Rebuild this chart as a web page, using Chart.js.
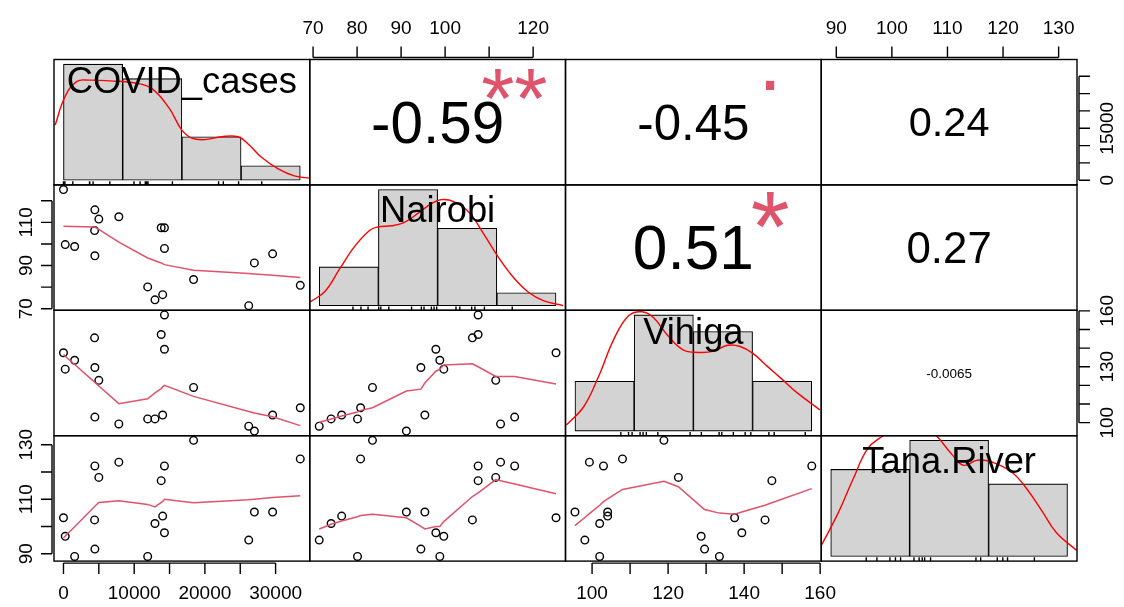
<!DOCTYPE html>
<html>
<head>
<meta charset="utf-8">
<title>chart.Correlation</title>
<script src="https://cdn.jsdelivr.net/npm/chart.js@4/dist/chart.umd.min.js"></script>
<style>
  html, body { margin: 0; padding: 0; background: #fff; }
  #wrap { position: relative; width: 1124px; height: 607px; overflow: hidden; }
  #wrap canvas { position: absolute; left: 0; top: 0; }
</style>
</head>
<body>
<div id="wrap"></div>
<script>
// ---- data ----
const varNames = ['COVID_cases', 'Nairobi', 'Vihiga', 'Tana.River'];

const covidCases = [0, 250, 1580, 4440, 5000, 4400, 4440, 7830, 11910, 12940, 13820, 14280, 14280, 14030, 18400, 26200, 27000, 29580, 33490];
const nairobi    = [125.2, 99.7, 98.8, 115.8, 111.5, 106.2, 94.5, 112.6, 80.1, 74.1, 107.5, 107.5, 97.9, 76.5, 83.5, 71.4, 91.2, 95.4, 80.8];
const vihiga     = [137.5, 128.7, 133.5, 103.0, 122.7, 145.5, 129.6, 99.3, 102.0, 102.0, 147.3, 157.8, 139.4, 104.1, 118.9, 98.1, 95.5, 104.1, 108.0];
const tanaRiver  = [103.2, 96.4, 89.0, 122.2, 118.0, 102.4, 91.7, 123.6, 89.0, 101.1, 116.8, 122.2, 97.7, 103.8, 131.6, 95.0, 105.3, 105.3, 124.8];

// upper panels: (row, col) pairs, printed r and significance stars
const corrPairs  = [[0, 1], [0, 2], [0, 3], [1, 2], [1, 3], [2, 3]];
const corrValues = [-0.59, -0.45, 0.24, 0.51, 0.27, -0.0065];
const corrLabels = ['-0.59', '-0.45', '0.24', '0.51', '0.27', '-0.0065'];
const corrStars  = ['**', '.', '', '*', '', ''];

// histograms on the diagonal
const covidBreaks = [0, 10000, 20000, 30000, 40000];
const covidCounts = [8, 7, 3, 1];
const nairobiBreaks = [60, 80, 100, 120, 140];
const nairobiCounts = [3, 9, 6, 1];
const vihigaBreaks = [80, 100, 120, 140, 160];
const vihigaCounts = [3, 7, 6, 3];
const tanaBreaks = [80, 100, 120, 140];
const tanaCounts = [6, 8, 5];

// density curves (height in bar-count units)
const covidDensX = [-1400, 200, 2200, 4400, 7800, 12200, 15000, 17800, 20000, 21700, 23900, 26700, 29500, 31200, 33400, 36200, 39000, 41800];
const covidDensY = [3.8, 5.7, 6.8, 6.9, 6.85, 6.7, 6.3, 5.0, 3.45, 2.9, 2.8, 3.0, 3.0, 2.5, 1.6, 0.8, 0.3, 0.14];
const nairobiDensX = [57.0, 62.0, 67.0, 72.1, 77.1, 79.9, 84.6, 88.8, 93.8, 98.0, 101.4, 105.6, 110.6, 115.6, 120.6, 125.7, 130.7, 135.7, 142.4];
const nairobiDensY = [0.29, 1.12, 2.89, 4.63, 5.85, 6.11, 6.19, 6.45, 7.23, 7.93, 8.22, 8.04, 7.23, 5.54, 3.72, 2.16, 1.04, 0.39, 0.0];
const vihigaDensX = [77.1, 83.0, 88.0, 93.1, 98.1, 102.6, 106.5, 111.5, 116.5, 121.6, 126.6, 131.6, 135.8, 140.0, 145.0, 150.1, 155.1, 162.7];
const vihigaDensY = [0.36, 1.48, 3.3, 5.53, 6.95, 7.19, 6.84, 5.73, 4.9, 4.74, 4.8, 5.17, 5.1, 4.7, 3.9, 3.1, 2.3, 1.28];
const tanaDensX = [77.5, 81.9, 85.7, 89.4, 93.2, 97.0, 100.0, 103.5, 106.8, 110.8, 113.6, 117.1, 120.9, 125.9, 129.7, 133.5, 137.2, 142.3];
const tanaDensY = [0.7, 3.0, 5.35, 7.44, 8.32, 9.1, 9.4, 9.1, 8.32, 7.0, 6.28, 6.63, 6.5, 5.8, 4.65, 3.14, 1.63, 0.42];

// lowess lines of the lower panels
const smoothCovNaiX = [0, 4440, 5000, 7830, 11910, 13820, 14280, 18400, 26200, 27000, 29580, 33490];
const smoothCovNaiY = [108.2, 107.8, 106.7, 100.8, 93.5, 91.2, 90.4, 87.8, 86.3, 86.1, 85.5, 84.4];
const smoothCovVihX = [0, 250, 1580, 4440, 5000, 7830, 11910, 12940, 13820, 14030, 14280, 18400, 26200, 27000, 29580, 33490];
const smoothCovVihY = [136.6, 135.6, 131.2, 121.6, 119.7, 110.2, 112.8, 116.0, 118.3, 119.2, 120.0, 114.1, 106.0, 105.2, 103.2, 98.4];
const smoothCovTanX = [0, 250, 1580, 4440, 5000, 7830, 11910, 12940, 14030, 14280, 18400, 26200, 29580, 33490];
const smoothCovTanY = [95.8, 96.5, 99.9, 107.4, 108.8, 109.4, 108.1, 107.2, 109.2, 110.0, 108.7, 109.8, 110.6, 111.3];
const smoothNaiVihX = [71.4, 74.1, 76.5, 80.1, 80.8, 83.5, 91.2, 94.5, 95.4, 97.9, 98.8, 99.7, 106.2, 107.5, 111.5, 112.6, 115.8, 125.2];
const smoothNaiVihY = [100.2, 102.0, 103.6, 105.7, 106.6, 108.0, 117.0, 118.0, 121.3, 127.6, 128.7, 130.9, 131.6, 130.0, 124.8, 124.8, 124.8, 120.7];
const smoothNaiTanX = [71.4, 74.1, 76.5, 80.1, 80.8, 83.5, 91.2, 94.5, 95.4, 97.9, 98.8, 99.7, 106.2, 107.5, 111.5, 112.6, 115.8, 125.2];
const smoothNaiTanY = [99.1, 100.8, 102.0, 103.6, 104.0, 104.5, 103.2, 100.0, 99.1, 100.0, 100.0, 101.8, 111.0, 112.3, 117.2, 116.8, 115.6, 112.0];
const smoothVihTanX = [95.5, 98.1, 99.3, 102.0, 103.0, 104.1, 108.0, 118.9, 122.7, 128.7, 129.6, 133.5, 137.5, 139.4, 145.5, 147.3, 157.8];
const smoothVihTanY = [100.3, 103.3, 104.7, 107.8, 109.1, 110.1, 113.6, 116.6, 114.6, 107.3, 106.2, 104.9, 104.5, 105.3, 107.8, 108.7, 113.9];

// outer axes
const covidTicks = [0, 5000, 10000, 15000, 20000, 25000, 30000];
const covidBottomLabels = ['0', '', '10000', '', '20000', '', '30000'];
const covidRightLabels = ['0', '', '', '15000', '', '', ''];
const nairobiTicks = [70, 80, 90, 100, 110, 120];
const nairobiTopLabels = ['70', '80', '90', '100', '', '120'];
const nairobiLeftLabels = ['70', '', '90', '', '110', ''];
const vihigaTicks = [100, 110, 120, 130, 140, 150, 160];
const vihigaBottomLabels = ['100', '', '120', '', '140', '', '160'];
const vihigaRightLabels = ['100', '', '', '130', '', '', '160'];
const tanaTicks = [90, 100, 110, 120, 130];
const tanaTopLabels = ['90', '100', '110', '120', '130'];
const tanaLeftLabels = ['90', '', '110', '', '130'];

// ---- layout ----
const W = 1124, H = 607;
const gridLeft = 54, gridTop = 59.5, cellW = 255.75, cellH = 125.4;
const FONT = '"Liberation Sans", Arial, Helvetica, sans-serif';
const LW = 1.4;
const smoothRed = '#DF536B';

const series = [covidCases, nairobi, vihiga, tanaRiver];
const histBreaks = [covidBreaks, nairobiBreaks, vihigaBreaks, tanaBreaks];
const histCounts = [covidCounts, nairobiCounts, vihigaCounts, tanaCounts];
const densX = [covidDensX, nairobiDensX, vihigaDensX, tanaDensX];
const densY = [covidDensY, nairobiDensY, vihigaDensY, tanaDensY];

function extRange(v) {
  const lo = Math.min(...v), hi = Math.max(...v), e = (hi - lo) * 0.04;
  return [lo - e, hi + e];
}
const ranges = series.map(extRange);

function addCanvas() {
  const c = document.createElement('canvas');
  c.width = W; c.height = H;
  document.getElementById('wrap').appendChild(c);
  return c;
}

function baseOptions(r, c) {
  const l = gridLeft + c * cellW, t = gridTop + r * cellH;
  return {
    responsive: false,
    animation: false,
    devicePixelRatio: 1,
    events: [],
    layout: { padding: { left: l, top: t, right: W - l - cellW, bottom: H - t - cellH } },
    plugins: { legend: { display: false }, tooltip: { enabled: false } }
  };
}

function linScale(range, extra) {
  return Object.assign({ type: 'linear', display: false, offset: false, min: range[0], max: range[1] }, extra || {});
}

function toPoints(xs, ys) {
  return xs.map((x, i) => ({ x: x, y: ys[i] }));
}

// text centred on its ink vertically, on its advance width horizontally
function inkText(ctx, txt, x, y, rotate) {
  ctx.save();
  ctx.textAlign = 'center';
  ctx.textBaseline = 'alphabetic';
  const m = ctx.measureText(txt);
  ctx.translate(x, y);
  if (rotate) ctx.rotate(-Math.PI / 2);
  ctx.fillText(txt, 0, (m.actualBoundingBoxAscent - m.actualBoundingBoxDescent) / 2);
  ctx.restore();
}

const boxPlugin = {
  id: 'box',
  afterDraw(chart) {
    const a = chart.chartArea, ctx = chart.ctx;
    ctx.save();
    ctx.strokeStyle = '#000';
    ctx.lineWidth = LW;
    ctx.strokeRect(a.left, a.top, a.right - a.left, a.bottom - a.top);
    ctx.restore();
  }
};

function axesPlugin(specs) {
  return {
    id: 'outerAxes',
    afterDraw(chart) {
      const a = chart.chartArea, ctx = chart.ctx;
      ctx.save();
      ctx.strokeStyle = '#000';
      ctx.fillStyle = '#000';
      ctx.lineWidth = LW;
      ctx.font = '19px ' + FONT;
      specs.forEach(s => {
        const horiz = s.side === 'top' || s.side === 'bottom';
        const scale = horiz ? chart.scales.x : chart.scales.y;
        const pos = s.ticks.map(v => scale.getPixelForValue(v));
        let base, dir, labelAt;
        if (s.side === 'bottom') { base = a.bottom + 2; dir = 1; labelAt = a.bottom + 31; }
        if (s.side === 'top') { base = a.top - 2; dir = -1; labelAt = a.top - 32; }
        if (s.side === 'left') { base = a.left - 2; dir = -1; labelAt = a.left - 29; }
        if (s.side === 'right') { base = a.right + 2; dir = 1; labelAt = a.right + 29; }
        ctx.beginPath();
        if (horiz) {
          ctx.moveTo(pos[0], base); ctx.lineTo(pos[pos.length - 1], base);
          pos.forEach(p => { ctx.moveTo(p, base); ctx.lineTo(p, base + dir * 11); });
        } else {
          ctx.moveTo(base, pos[0]); ctx.lineTo(base, pos[pos.length - 1]);
          pos.forEach(p => { ctx.moveTo(base, p); ctx.lineTo(base + dir * 11, p); });
        }
        ctx.stroke();
        s.labels.forEach((t, i) => {
          if (!t) return;
          if (horiz) inkText(ctx, t, pos[i], labelAt, false);
          else inkText(ctx, t, labelAt, pos[i], true);
        });
      });
      ctx.restore();
    }
  };
}

function corrPlugin(k) {
  return {
    id: 'corrText',
    afterDraw(chart) {
      const a = chart.chartArea, ctx = chart.ctx;
      const w = a.right - a.left, h = a.bottom - a.top;
      const txt = corrLabels[k];
      ctx.save();
      ctx.font = '100px ' + FONT;
      const unit = ctx.measureText(txt).width / 100;
      const base = 0.8 * w / unit * 0.95;
      ctx.fillStyle = '#000';
      ctx.font = (base * (Math.abs(corrValues[k]) + 0.3) / 1.3).toFixed(2) + 'px ' + FONT;
      inkText(ctx, txt, a.left + w / 2, a.top + h / 2, false);
      if (corrStars[k]) {
        ctx.fillStyle = smoothRed;
        ctx.font = base.toFixed(2) + 'px ' + FONT;
        inkText(ctx, corrStars[k], a.left + 0.8 * w, a.bottom - 0.8 * h, false);
      }
      ctx.restore();
    }
  };
}

function diagPlugin(k) {
  return {
    id: 'diagExtras',
    afterDatasetsDraw(chart) {
      // rug
      const a = chart.chartArea, ctx = chart.ctx;
      const xs = chart.scales.x;
      ctx.save();
      ctx.strokeStyle = '#000';
      ctx.lineWidth = LW;
      ctx.beginPath();
      series[k].forEach(v => {
        const p = xs.getPixelForValue(v);
        ctx.moveTo(p, a.bottom);
        ctx.lineTo(p, a.bottom - 0.03 * (a.bottom - a.top));
      });
      ctx.stroke();
      ctx.restore();
    },
    afterDraw(chart) {
      const a = chart.chartArea, ctx = chart.ctx;
      const w = a.right - a.left, h = a.bottom - a.top;
      ctx.save();
      ctx.font = '100px ' + FONT;
      const widest = Math.max(...varNames.map(n => ctx.measureText(n).width));
      ctx.font = (0.9 * w * 100 / widest).toFixed(2) + 'px ' + FONT;
      ctx.fillStyle = '#000';
      inkText(ctx, varNames[k], a.left + w / 2, a.bottom - h * (0.5 + 1 / 3) + 3, false);
      ctx.restore();
    }
  };
}

function diagPanel(k) {
  const br = histBreaks[k], cnt = histCounts[k];
  const span = br[br.length - 1] - br[0];
  const maxC = Math.max(...cnt);
  const bars = cnt.map((n, i) => ({ x: (br[i] + br[i + 1]) / 2, y: n }));
  const opts = baseOptions(k, k);
  opts.scales = {
    x: linScale([br[0] - 0.04 * span, br[br.length - 1] + 0.04 * span], {
      afterBuildTicks: s => { s.ticks = br.map(v => ({ value: v })); }
    }),
    y: linScale([-0.04 * maxC, maxC * 1.04])
  };
  new Chart(addCanvas(), {
    type: 'bar',
    data: {
      datasets: [
        { type: 'line', data: toPoints(densX[k], densY[k]), borderColor: '#FF0000', borderWidth: 1.4,
          pointRadius: 0, tension: 0.4, order: 0 },
        { type: 'bar', data: bars, backgroundColor: '#D3D3D3', borderColor: '#000', borderWidth: 1.1,
          borderSkipped: false, barPercentage: 1, categoryPercentage: 1, order: 1 }
      ]
    },
    options: opts,
    plugins: [diagPlugin(k), boxPlugin]
  });
}

function lowerPanel(r, c, sx, sy, axes) {
  const opts = baseOptions(r, c);
  opts.scales = { x: linScale(ranges[c]), y: linScale(ranges[r]) };
  new Chart(addCanvas(), {
    type: 'scatter',
    data: {
      datasets: [
        { type: 'line', data: toPoints(sx, sy), borderColor: smoothRed, borderWidth: 1.5,
          pointRadius: 0, tension: 0, order: 0 },
        { type: 'scatter', data: toPoints(series[c], series[r]), pointStyle: 'circle', pointRadius: 3.8,
          borderColor: '#000', backgroundColor: 'rgba(0,0,0,0)', borderWidth: 1.4, clip: false, order: 1 }
      ]
    },
    options: opts,
    plugins: [boxPlugin, axesPlugin(axes || [])]
  });
}

function upperPanel(k, axes) {
  const r = corrPairs[k][0], c = corrPairs[k][1];
  const opts = baseOptions(r, c);
  opts.scales = { x: linScale(ranges[c]), y: linScale(ranges[r]) };
  new Chart(addCanvas(), {
    type: 'scatter',
    data: { datasets: [] },
    options: opts,
    plugins: [boxPlugin, corrPlugin(k), axesPlugin(axes || [])]
  });
}

// diagonal
[0, 1, 2, 3].forEach(diagPanel);

// lower triangle
lowerPanel(1, 0, smoothCovNaiX, smoothCovNaiY, [{ side: 'left', ticks: nairobiTicks, labels: nairobiLeftLabels }]);
lowerPanel(2, 0, smoothCovVihX, smoothCovVihY);
lowerPanel(3, 0, smoothCovTanX, smoothCovTanY, [
  { side: 'left', ticks: tanaTicks, labels: tanaLeftLabels },
  { side: 'bottom', ticks: covidTicks, labels: covidBottomLabels }
]);
lowerPanel(2, 1, smoothNaiVihX, smoothNaiVihY);
lowerPanel(3, 1, smoothNaiTanX, smoothNaiTanY);
lowerPanel(3, 2, smoothVihTanX, smoothVihTanY, [{ side: 'bottom', ticks: vihigaTicks, labels: vihigaBottomLabels }]);

// upper triangle
upperPanel(0, [{ side: 'top', ticks: nairobiTicks, labels: nairobiTopLabels }]);
upperPanel(1);
upperPanel(2, [
  { side: 'top', ticks: tanaTicks, labels: tanaTopLabels },
  { side: 'right', ticks: covidTicks, labels: covidRightLabels }
]);
upperPanel(3);
upperPanel(4);
upperPanel(5, [{ side: 'right', ticks: vihigaTicks, labels: vihigaRightLabels }]);
</script>
</body>
</html>
